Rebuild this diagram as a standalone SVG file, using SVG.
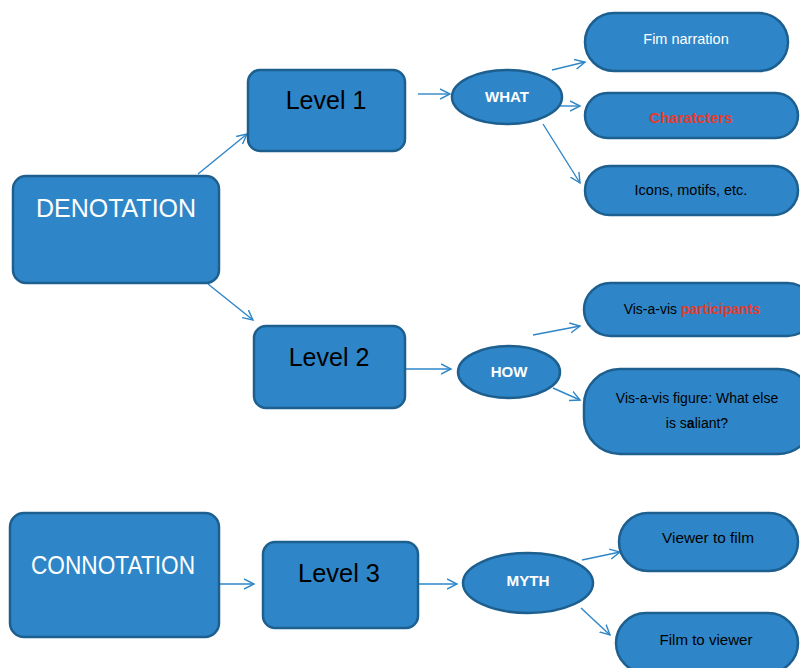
<svg xmlns="http://www.w3.org/2000/svg" width="800" height="668" viewBox="0 0 800 668">
<defs>
<marker id="ah" markerUnits="userSpaceOnUse" markerWidth="12" markerHeight="12" refX="10" refY="5" orient="auto" viewBox="0 0 12 10">
<path d="M0,0 L10,5 L0,10" fill="none" stroke="#2E86C8" stroke-width="1.4"/>
</marker>
</defs>
<style>
.n{fill:#2E86C8;stroke:#1D5F8F;stroke-width:2.5}
.c{stroke:#2E86C8;stroke-width:1.4;fill:none;marker-end:url(#ah)}
text{font-family:"Liberation Sans",Arial,sans-serif;text-anchor:middle}
.big{font-size:25px;fill:#fff}
.lvl{font-size:25px;fill:#000}
.ov{font-size:15px;font-weight:bold;fill:#fff}
.sm{font-size:14px;fill:#000}
.red{fill:#E53B2C;font-weight:bold}
</style>
<rect width="800" height="668" fill="#fff"/>
<g id="connectors">
<line class="c" x1="198" y1="174" x2="247" y2="134"/>
<line class="c" x1="208" y1="284" x2="253" y2="320"/>
<line class="c" x1="418" y1="94" x2="450" y2="94"/>
<line class="c" x1="552" y1="70" x2="585" y2="62"/>
<line class="c" x1="558" y1="106" x2="580" y2="106"/>
<line class="c" x1="543" y1="124" x2="580" y2="183"/>
<line class="c" x1="395" y1="369" x2="451" y2="369"/>
<line class="c" x1="533" y1="335" x2="580" y2="326"/>
<line class="c" x1="553" y1="388" x2="580" y2="400"/>
<line class="c" x1="219" y1="584" x2="254" y2="584"/>
<line class="c" x1="418" y1="584" x2="457" y2="584"/>
<line class="c" x1="582" y1="560" x2="620" y2="552"/>
<line class="c" x1="581" y1="608" x2="610" y2="635"/>
</g>
<g id="denotation">
<rect class="n" x="13" y="176" width="206" height="107" rx="13"/>
<text class="big" x="116" y="217">DENOTATION</text>
</g>
<g id="level1">
<rect class="n" x="248" y="70" width="157" height="81" rx="12"/>
<text class="lvl" x="326" y="109">Level 1</text>
</g>
<g id="level2">
<rect class="n" x="254" y="326" width="151" height="82" rx="12"/>
<text class="lvl" x="329" y="366">Level 2</text>
</g>
<g id="what">
<ellipse class="n" cx="507" cy="97" rx="55" ry="27"/>
<text class="ov" x="507" y="102">WHAT</text>
</g>
<g id="how">
<ellipse class="n" cx="509" cy="372" rx="51" ry="26"/>
<text class="ov" x="509" y="377">HOW</text>
</g>
<g id="fim">
<rect class="n" x="585" y="13" width="203" height="58" rx="29"/>
<text class="sm" x="686" y="44" style="fill:#fff;font-size:14.5px">Fim narration</text>
</g>
<g id="characters">
<rect class="n" x="585" y="93" width="213" height="45" rx="22.5"/>
<text class="sm red" x="691" y="123" style="font-size:15px">Charatcters</text>
</g>
<g id="icons">
<rect class="n" x="585" y="166" width="213" height="49" rx="24.5"/>
<text class="sm" x="691" y="195" style="font-size:14.5px">Icons, motifs, etc.</text>
</g>
<g id="participants">
<rect class="n" x="584" y="283" width="230" height="53" rx="26.5"/>
<text class="sm" x="692" y="314">Vis-a-vis <tspan class="red">participants</tspan></text>
</g>
<g id="figure">
<rect class="n" x="584" y="369" width="230" height="85" rx="36"/>
<text class="sm" x="697" y="403">Vis-a-vis figure: What else</text>
<text class="sm" x="697" y="428">is s<tspan font-weight="bold">a</tspan>liant?</text>
</g>
<g id="connotation">
<rect class="n" x="10" y="513" width="209" height="124" rx="14"/>
<text class="big" x="113" y="574" textLength="164" lengthAdjust="spacingAndGlyphs">CONNOTATION</text>
</g>
<g id="level3">
<rect class="n" x="263" y="542" width="155" height="86" rx="12"/>
<text class="lvl" x="339" y="582" textLength="82" lengthAdjust="spacingAndGlyphs">Level 3</text>
</g>
<g id="myth">
<ellipse class="n" cx="528" cy="583" rx="65" ry="30"/>
<text class="ov" x="528" y="586" textLength="43" lengthAdjust="spacingAndGlyphs">MYTH</text>
</g>
<g id="viewer">
<rect class="n" x="619" y="513" width="179" height="58" rx="29"/>
<text class="sm" x="708" y="543" textLength="92" lengthAdjust="spacingAndGlyphs">Viewer to film</text>
</g>
<g id="filmto">
<rect class="n" x="616" y="613" width="182" height="60" rx="30"/>
<text class="sm" x="706" y="645" textLength="93" lengthAdjust="spacingAndGlyphs">Film to viewer</text>
</g>
</svg>
